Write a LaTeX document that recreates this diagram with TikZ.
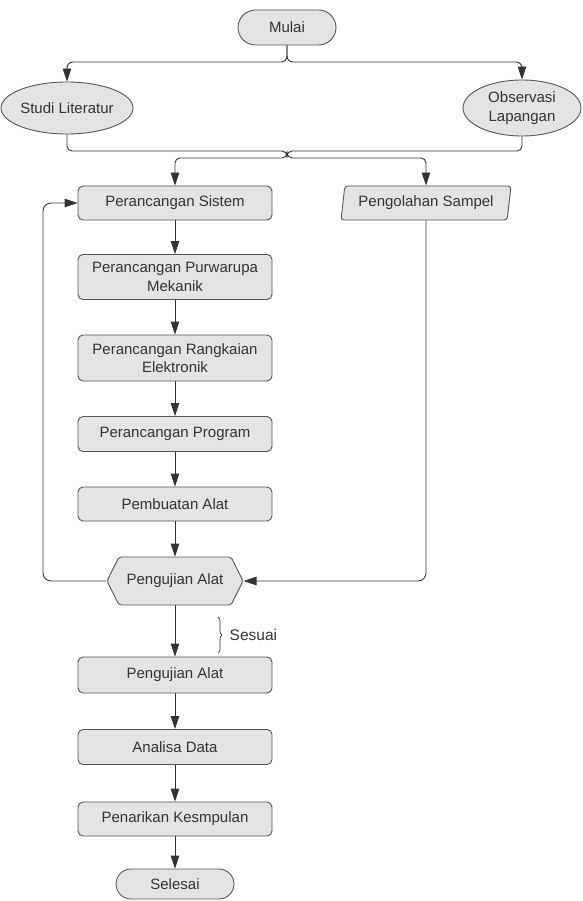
\documentclass[tikz,border=0pt]{standalone}
\usepackage{fontspec}
\setmainfont{Liberation Sans}
\usetikzlibrary{positioning, shapes.geometric, shapes.misc, shapes.symbols, arrows.meta, decorations.pathreplacing}

\definecolor{kotak}{HTML}{E4E4E4}
\definecolor{garis}{HTML}{555555}
\definecolor{tulisan}{HTML}{333333}

\tikzset{
	dasar/.style={draw=garis, fill=kotak, line width=0.9pt, text=tulisan, align=center,
		font=\fontsize{15}{18.5}\selectfont, inner sep=2pt},
	proses/.style={dasar, rectangle, rounded corners=5, minimum width=194, minimum height=34},
	terminal/.style={dasar, rounded rectangle, minimum height=35},
	awal/.style={dasar, ellipse, inner sep=0pt},
	panah/.style={draw=tulisan, line width=0.9pt, -{Triangle[width=8.5, length=13]}},
	garisan/.style={draw=tulisan, line width=0.9pt}
}

\begin{document}
\begin{tikzpicture}[x=1pt, y=-1pt]
		% 画布大小
		\useasboundingbox (0, 0) rectangle (582, 901);

		% 开始与文献、观察
		\node[terminal, minimum width=102] (mulai) at (287, 27.5) {Mulai};
		\node[awal, minimum width=122, minimum height=52] (studi) at (67, 108) {Studi Literatur};
		\node[awal, minimum width=118, minimum height=56] (observasi) at (522, 108) {Observasi\\Lapangan};

		% 分叉点
		\coordinate (pisah1) at (287, 62);
		\coordinate (gabung) at (287, 151);
		\coordinate (pisah2) at (287, 158);
		\coordinate (kiri) at (43, 0);

		% 左边主流程
		\node[proses] (sistem) at (175, 203) {Perancangan Sistem};
		\node[dasar, trapezium, trapezium left angle=78, trapezium right angle=102, trapezium stretches body,
			rounded corners=3, minimum width=170, minimum height=34] (sampel) at (426, 203) {Pengolahan Sampel};
		\node[proses, minimum height=45] (mekanik) at (175, 277) {Perancangan Purwarupa\\Mekanik};
		\node[proses, minimum height=46] (elektronik) at (175, 358) {Perancangan Rangkaian\\Elektronik};
		\node[proses, minimum height=35] (program) at (175, 434) {Perancangan Program};
		\node[proses] (pembuatan) at (175, 504) {Pembuatan Alat};
		\node[dasar, signal, signal to=west and east, signal pointer angle=127, rounded corners=2,
			minimum width=136, minimum height=48] (uji) at (175, 581) {Pengujian Alat};
		\node[proses, minimum height=36] (uji2) at (175, 675) {Pengujian Alat};
		\node[proses, minimum height=35] (analisa) at (175, 747) {Analisa Data};
		\node[proses] (kesimpulan) at (175, 819) {Penarikan Kesmpulan};
		\node[terminal, minimum width=122, minimum height=30] (selesai) at (175, 884) {Selesai};

		% 上面的连线
		\draw[panah, rounded corners=6] (mulai.south) -- (pisah1) -| (studi.north);
		\draw[panah, rounded corners=6] (mulai.south) -- (pisah1) -| (observasi.north);
		\draw[panah, rounded corners=5] (studi.south) |- (gabung) -- (pisah2) -| (sistem.north);
		\draw[panah, rounded corners=5] (observasi.south) |- (gabung) -- (pisah2) -| (sampel.north);

		% 主流程的箭头
		\foreach \a/\b in {sistem/mekanik, mekanik/elektronik, elektronik/program, program/pembuatan,
				pembuatan/uji, uji/uji2, uji2/analisa, analisa/kesimpulan, kesimpulan/selesai} {
				\draw[panah] (\a.south) -- (\b.north);
			}

		% 回路
		\draw[panah, rounded corners=8] (uji.west) -- (uji.west -| kiri) |- (sistem.west);
		\draw[panah, rounded corners=8] (sampel.south) |- (uji.east);

		% 括号
		\draw[garisan, line width=0.7pt, decorate, decoration={brace, amplitude=4}] (218, 617) -- (218, 653)
			node[midway, right=8, text=tulisan, font=\fontsize{15.5}{18}\selectfont] (sesuai) {Sesuai};
	\end{tikzpicture}
\end{document}
